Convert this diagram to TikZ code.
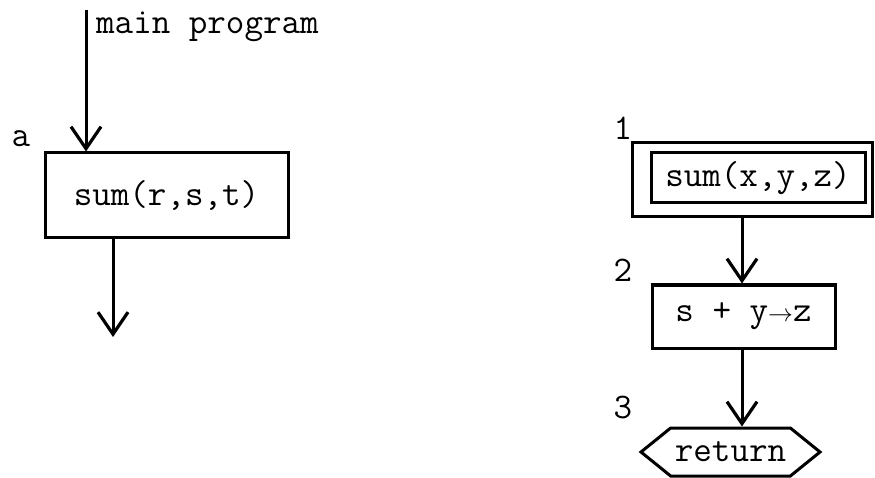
\documentclass[tikz,border=0pt]{standalone}
\usetikzlibrary{arrows.meta,shapes.symbols}
\tikzset{
  flow/.style={line width=3pt,-{Straight Barb[length=22pt,width=30pt,line width=3.2pt]}},
  box/.style={draw,line width=3pt,rectangle,inner sep=0pt},
  lbl/.style={inner sep=0pt},
}
\begin{document}
\begin{tikzpicture}[x=1pt,y=-1pt,font=\ttfamily\fontsize{36}{40}\selectfont]
    \useasboundingbox (0,0) rectangle (875,478);
    % calling program
    \node[box,minimum width=243pt,minimum height=85pt] (sumrst) at (166.5,195.5) {sum(r,s,t)};
    \coordinate (entry) at (86,10);
    \coordinate (leave) at (113,337);
    \draw[flow] (entry) -- (entry |- sumrst.north);
    \draw[flow] (sumrst.south -| leave) -- (leave);
    \node[lbl,anchor=west] (mainlbl) at (96,27) {main program};
    \node[lbl] (alab) at (21,139) {a};
    % subroutine
    \node[box,minimum width=240pt,minimum height=74pt] (sumouter) at (752,180) {};
    \node[box,minimum width=214pt,minimum height=50pt] (sumxyz) at (758,178) {sum(x,y,z)};
    \node[box,minimum width=183pt,minimum height=63pt] (addbox) at (743.5,316.5) {s + y{\fontsize{30}{32}\selectfont$\to$}z};
    \node[draw,line width=3pt,signal,signal to=west and east,signal pointer angle=78,
          minimum width=179pt,minimum height=48pt,inner sep=0pt] (ret) at (730.5,452) {return};
    \coordinate (col) at (742,0);
    \draw[flow] (sumouter.south -| col) -- (addbox.north -| col);
    \draw[flow] (addbox.south -| col) -- (ret.north -| col);
    \node[lbl] (one) at (623,128) {1};
    \node[lbl] (two) at (623,270) {2};
    \node[lbl] (three) at (623,408) {3};
  \end{tikzpicture}
\end{document}
